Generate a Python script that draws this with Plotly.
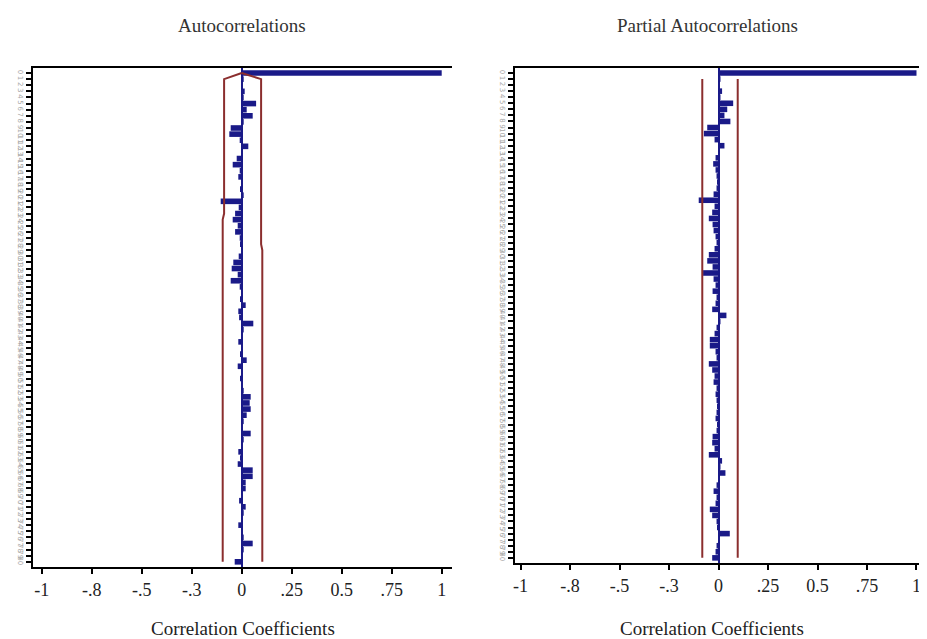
import plotly.graph_objects as go

# ---------------- data ----------------
lags = list(range(0, 81))

acf_values = [
    1.0, 0.01, 0.005, 0.015, 0.01, 0.072, 0.025, 0.055, 0.01, -0.055,
    -0.062, -0.01, 0.033, 0.005, -0.025, -0.045, -0.01, -0.017, 0.005, -0.005,
    0.01, -0.105, -0.015, -0.033, -0.045, -0.02, -0.033, -0.01, -0.005, 0.005,
    -0.015, -0.042, -0.05, -0.02, -0.055, -0.01, 0.005, -0.005, 0.02, -0.017,
    -0.013, 0.058, 0.01, 0.005, -0.017, 0.005, -0.005, 0.025, -0.02, 0.005,
    -0.005, 0.005, 0.01, 0.045, 0.04, 0.045, 0.025, 0.01, 0.005, 0.045,
    0.01, 0.005, -0.017, -0.005, -0.02, 0.055, 0.055, 0.02, 0.02, 0.005,
    -0.013, 0.02, 0.01, 0.005, -0.017, 0.005, 0.01, 0.055, 0.01, 0.005,
    -0.035,
]

pacf_values = [
    1.0, 0.01, 0.005, 0.018, 0.01, 0.074, 0.044, 0.03, 0.06, -0.057,
    -0.074, -0.02, 0.03, 0.005, -0.015, -0.027, -0.015, -0.01, -0.005, -0.01,
    -0.025, -0.1, -0.02, -0.032, -0.049, -0.03, -0.025, -0.015, -0.01, -0.02,
    -0.049, -0.057, -0.03, -0.078, -0.025, -0.015, -0.03, -0.01, -0.015, -0.032,
    0.04, 0.01, -0.01, -0.02, -0.044, -0.044, -0.015, -0.01, -0.049, -0.032,
    -0.02, -0.025, -0.01, -0.015, -0.01, -0.005, -0.01, -0.015, -0.005, -0.01,
    -0.03, -0.032, -0.02, -0.049, 0.018, 0.01, 0.035, 0.005, -0.01, -0.025,
    -0.01, -0.015, -0.044, -0.032, -0.01, -0.005, 0.057, 0.005, -0.01, -0.015,
    -0.032,
]

# confidence limits
acf_lower_lags = [0, 1, 23, 24, 80]
acf_lower_vals = [0, -0.088, -0.088, -0.095, -0.095]
acf_upper_lags = [0, 1, 28, 29, 80]
acf_upper_vals = [0, 0.097, 0.097, 0.103, 0.103]
pacf_band_lags = [1, 80]
pacf_lower_vals = [-0.082, -0.082]
pacf_upper_vals = [0.097, 0.097]

x_tickvals = [-1, -0.75, -0.5, -0.25, 0, 0.25, 0.5, 0.75, 1]
x_ticktext = ["-1", "-.8", "-.5", "-.3", "0", ".25", "0.5", ".75", "1"]
y_ticktext = [str(l) for l in lags]

panel_titles = ["Autocorrelations", "Partial Autocorrelations"]
x_title = "Correlation Coefficients"

# ---------------- style ----------------
OFF = 8               # page body margin
W, H = 927 - OFF, 639 - OFF
BAR = "#1a1a88"
BAND = "#8b2e2e"
SERIF = "Liberation Serif, Times New Roman, serif"

def px_x(p):
    return (p - OFF) / W

def px_y(p):
    return 1 - (p - OFF) / H

fig = go.Figure()

fig.add_trace(go.Bar(x=acf_values, y=lags, orientation="h", marker=dict(color=BAR, line=dict(width=0)),
                     xaxis="x", yaxis="y", showlegend=False))
fig.add_trace(go.Scatter(x=acf_lower_vals, y=acf_lower_lags, mode="lines", line=dict(color=BAND, width=2),
                         xaxis="x", yaxis="y", showlegend=False))
fig.add_trace(go.Scatter(x=acf_upper_vals, y=acf_upper_lags, mode="lines", line=dict(color=BAND, width=2),
                         xaxis="x", yaxis="y", showlegend=False))

fig.add_trace(go.Bar(x=pacf_values, y=lags, orientation="h", marker=dict(color=BAR, line=dict(width=0)),
                     xaxis="x2", yaxis="y2", showlegend=False))
fig.add_trace(go.Scatter(x=pacf_lower_vals, y=pacf_band_lags, mode="lines", line=dict(color=BAND, width=2),
                         xaxis="x2", yaxis="y2", showlegend=False))
fig.add_trace(go.Scatter(x=pacf_upper_vals, y=pacf_band_lags, mode="lines", line=dict(color=BAND, width=2),
                         xaxis="x2", yaxis="y2", showlegend=False))

xaxis_common = dict(
    tickmode="array", tickvals=x_tickvals, ticktext=x_ticktext,
    ticks="outside", ticklen=5, tickwidth=2, tickcolor="black",
    showline=True, linecolor="black", linewidth=2, mirror=True,
    showgrid=False, zeroline=True, zerolinecolor=BAR, zerolinewidth=1.5,
    tickfont=dict(family=SERIF, size=18, color="#222"),
    automargin=False, fixedrange=True,
)
yaxis_common = dict(
    tickmode="array", tickvals=lags, ticktext=y_ticktext,
    ticks="outside", ticklen=5, tickwidth=2, tickcolor="black",
    showline=True, linecolor="black", linewidth=2, mirror=False,
    showgrid=False, zeroline=False,
    tickangle=90,
    tickfont=dict(family="DejaVu Sans", size=7, color="#a8a8a8"),
    range=[80.85, -0.82], automargin=False, fixedrange=True,
)

def label(text, x, y, size, color):
    return dict(text=text, x=px_x(x), y=px_y(y), xref="paper", yref="paper",
                xanchor="center", yanchor="middle", showarrow=False,
                font=dict(family=SERIF, size=size, color=color))

fig.update_layout(
    width=W, height=H,
    margin=dict(l=0, r=0, t=0, b=0),
    paper_bgcolor="white", plot_bgcolor="white",
    bargap=0.08,
    xaxis=dict(xaxis_common, domain=[px_x(33), px_x(452)], range=[-1.0435, 1.0515], anchor="y"),
    yaxis=dict(yaxis_common, domain=[px_y(567), px_y(68)], anchor="x"),
    xaxis2=dict(xaxis_common, domain=[px_x(515), px_x(925)], range=[-1.028, 1.043], anchor="y2"),
    yaxis2=dict(yaxis_common, domain=[px_y(563), px_y(68)], anchor="x2"),
    annotations=[
        label(panel_titles[0], 242, 25, 19, "#333"),
        label(panel_titles[1], 707, 25, 19, "#333"),
        label(x_title, 243, 628, 19, "#222"),
        label(x_title, 712, 628, 19, "#222"),
    ],
)

fig.write_html("out.html")
